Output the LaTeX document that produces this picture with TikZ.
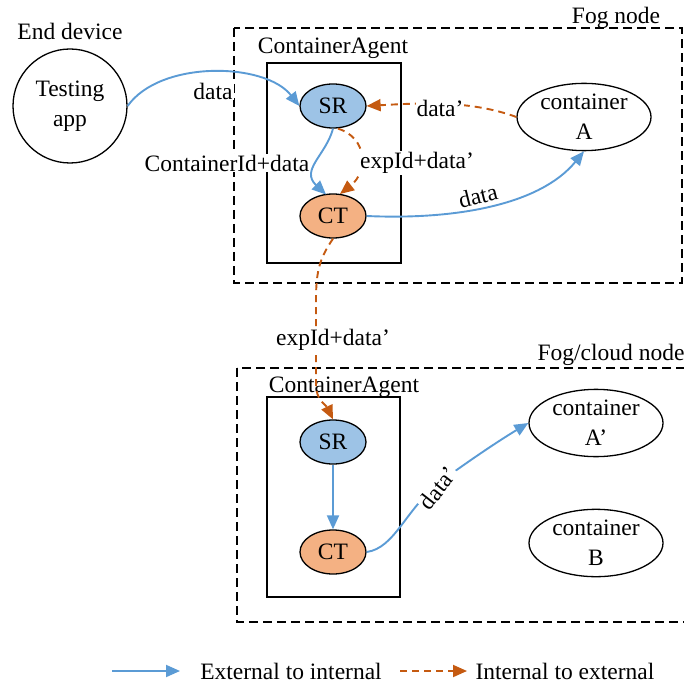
\documentclass[tikz,border=0pt]{standalone}
\usepackage{fontspec}
\setmainfont{Liberation Serif}
\usetikzlibrary{shapes.geometric,arrows.meta}
\definecolor{ablue}{HTML}{5B9BD5}
\definecolor{aorange}{HTML}{C55A11}
\definecolor{srfill}{HTML}{9DC3E6}
\definecolor{ctfill}{HTML}{F4B183}
\tikzset{
  txt/.style={font=\fontsize{23.5}{27}\selectfont, inner sep=1pt},
  lbl/.style={txt, fill=white},
  fogbox/.style={draw, line width=1.4pt, dash pattern=on 9pt off 5pt},
  agentbox/.style={draw, line width=1.3pt},
  oval/.style={ellipse, draw, line width=1.3pt, inner sep=0pt, txt},
  srnode/.style={oval, fill=srfill, minimum width=66pt, minimum height=44pt},
  ctnode/.style={oval, fill=ctfill, minimum width=66pt, minimum height=44pt},
  contnode/.style={oval, minimum width=134pt, minimum height=64pt, align=center, font=\fontsize{23.5}{30}\selectfont},
  ext/.style={draw=ablue, line width=1.9pt, -{Triangle[length=14pt,width=12pt]}},
  int/.style={draw=aorange, line width=1.9pt, dash pattern=on 7pt off 5pt, -{Triangle[length=14pt,width=12pt]}},
}
\begin{document}
\begin{tikzpicture}[x=1pt,y=-1pt]
\useasboundingbox (0,0) rectangle (683,684);
% boxes
\draw[fogbox] (234,28) rectangle (682,283);
\draw[fogbox] (237,368) rectangle (690,622);
\draw[agentbox] (267,63) rectangle (401,263);
\draw[agentbox] (267,397) rectangle (400,597);
\node[txt] (fogl) at (616,18) {Fog node};
\node[txt] (fogcl) at (611,355) {Fog/cloud node};
\node[txt] (ca1) at (333,48) {ContainerAgent};
\node[txt] (ca2) at (344,387) {ContainerAgent};
\node[txt] (edl) at (70,31) {End device};
% nodes
\node[circle, draw, line width=1.3pt, minimum size=114pt, inner sep=0pt, align=center, font=\fontsize{23.5}{30}\selectfont] (app) at (70,106) {Testing\\app};
\node[srnode] (sr) at (333,106) {SR};
\node[ctnode] (ct) at (333,216) {CT};
\node[contnode] (ca) at (584,117) {container\\A};
\node[srnode] (lsr) at (333,442) {SR};
\node[ctnode] (lct) at (333,552) {CT};
\node[contnode] (la) at (596,423) {container\\A’};
\node[contnode] (lb) at (596,543) {container\\B};
% connectors upper
\draw[ext] (app.east) .. controls (160,60) and (265,62) .. (sr.west);
\node[lbl] (l1) at (213,91) {data};
\draw[ext] (sr.south) .. controls (326,155) and (300,170) .. (326,194.5);
\node[lbl] (l2) at (227,163) {ContainerId+data};
\draw[int] (sr.south) ++(5,0) .. controls (368,138) and (368,172) .. (340,194);
\node[lbl] (l3) at (417,163) {expId+data’};
\draw[int] (ca.west) .. controls (470,100) and (420,103) .. (sr.east);
\node[lbl] (l4) at (440,108) {data’};
\draw[ext] (ct.east) .. controls (455,220) and (540,205) .. (ca.south);
\node[lbl, rotate=14] (l5) at (478,196) {data};
\draw[int] (ct.south) .. controls (320,258) and (316,270) .. (316,300) -- (316,385) .. controls (316,400) and (326,405) .. (lsr.north);
\node[lbl] (l6) at (333,340) {expId+data’};
% connectors lower
\draw[ext] (lsr.south) -- (lct.north);
\draw[ext] (lct.east) .. controls (395,548) and (405,510) .. (440,482) .. controls (470,460) and (500,440) .. (la.west);
\node[lbl, rotate=52] (l7) at (438,488) {data’};
% legend
\coordinate (k1s) at (112,671);
\coordinate (k1e) at (180,671);
\coordinate (k2s) at (400,671);
\coordinate (k2e) at (467,671);
\draw[ext] (k1s) -- (k1e);
\node[txt] (k1) at (291,671) {External to internal};
\draw[int] (k2s) -- (k2e);
\node[txt] (k2) at (565,671) {Internal to external};
\end{tikzpicture}
\end{document}
